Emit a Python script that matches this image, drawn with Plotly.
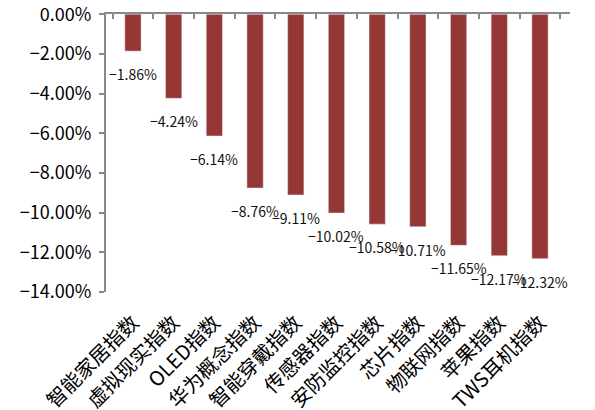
import plotly.graph_objects as go

# Index returns (%)
categories = ["智能家居指数", "虚拟现实指数", "OLED指数", "华为概念指数", "智能穿戴指数",
              "传感器指数", "安防监控指数", "芯片指数", "物联网指数", "苹果指数", "TWS耳机指数"]
returns = [-1.86, -4.24, -6.14, -8.76, -9.11, -10.02, -10.58, -10.71, -11.65, -12.17, -12.32]
y_ticks = [0, -2, -4, -6, -8, -10, -12, -14]

bar_color = "#953735"
axis_color = "#888888"
cjk_font = "Noto Sans CJK SC"

fig = go.Figure()

fig.add_trace(go.Bar(
    x=categories, y=returns, marker_color=bar_color,
    xaxis="x", yaxis="y", hoverinfo="skip",
))

# Carrier trace so the top axis (zero line with category ticks) is drawn
fig.add_trace(go.Scatter(
    x=categories, y=returns, mode="markers", marker=dict(opacity=0),
    xaxis="x2", yaxis="y", hoverinfo="skip", showlegend=False,
))

# Value labels beneath each bar end
for c, v in zip(categories, returns):
    fig.add_annotation(
        x=c, y=v, xref="x", yref="y", text=f"{v:.2f}%".replace("-", "−"),
        showarrow=False, yshift=-23, font=dict(family=cjk_font, size=14, color="#111111"),
    )

fig.update_layout(
    width=595, height=410, autosize=False,
    margin=dict(l=106, r=25, t=14, b=118),
    paper_bgcolor="white", plot_bgcolor="white",
    showlegend=False, bargap=0.6,
    font=dict(family=cjk_font, color="#000000"),
    xaxis=dict(
        type="category", categoryorder="array", categoryarray=categories,
        side="bottom", showline=False, ticks="", showgrid=False, zeroline=False,
        tickangle=-45, ticklabelstandoff=14,
        tickfont=dict(family=cjk_font, size=20, color="#000000"),
        automargin=False,
    ),
    xaxis2=dict(
        type="category", categoryorder="array", categoryarray=categories,
        overlaying="x", matches="x", side="top", anchor="y",
        showline=True, linecolor=axis_color, linewidth=2,
        ticks="inside", ticklen=5, tickwidth=2, tickcolor=axis_color,
        tickson="boundaries", showticklabels=False, showgrid=False, zeroline=False,
        automargin=False,
    ),
    yaxis=dict(
        range=[-14, 0.01], tickmode="array", tickvals=y_ticks,
        ticktext=[f"{t:.2f}%".replace("-", "−") for t in y_ticks],
        showline=True, linecolor=axis_color, linewidth=2,
        ticks="outside", ticklen=5, tickwidth=2, tickcolor=axis_color,
        showgrid=False, zeroline=False, ticklabelstandoff=4,
        ticklabeloverflow="allow",
        tickfont=dict(family=cjk_font, size=18, color="#000000"),
        automargin=False,
    ),
)

fig.write_html("out.html")
